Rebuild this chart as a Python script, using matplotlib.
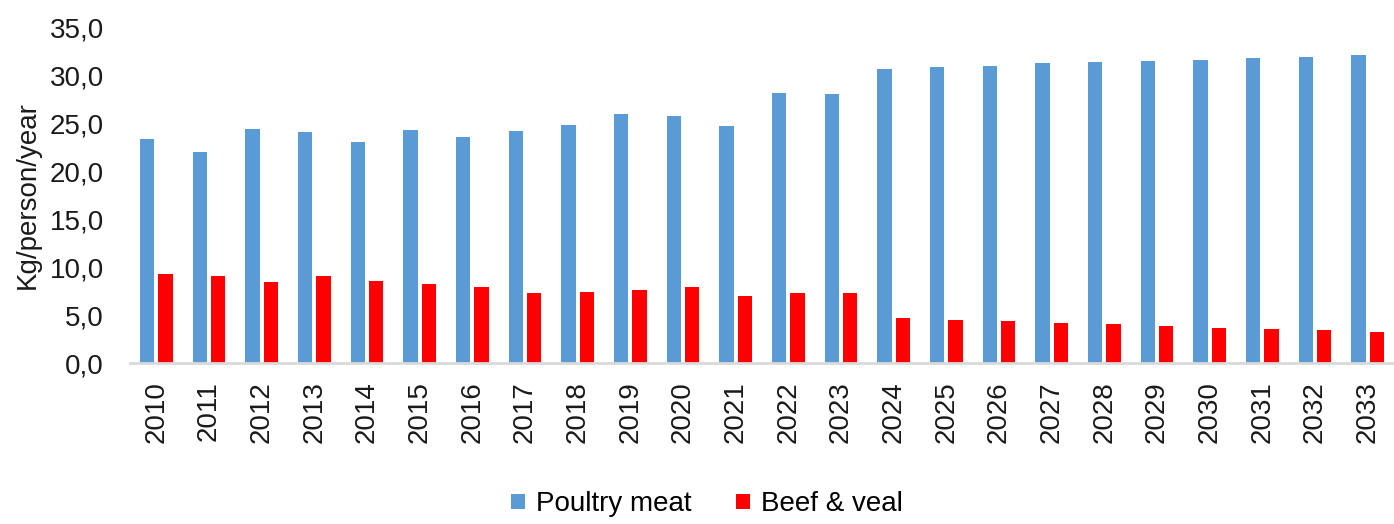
import numpy as np
import matplotlib.pyplot as plt
from matplotlib.ticker import FuncFormatter

plt.rcParams['font.family'] = ['Liberation Sans', 'DejaVu Sans']

# Data
years = [str(y) for y in range(2010, 2034)]
poultry = [23.4, 22.0, 24.4, 24.1, 23.1, 24.3, 23.6, 24.2, 24.9, 26.05,
           25.8, 24.8, 28.2, 28.1, 30.75, 30.95, 31.07, 31.3, 31.45, 31.6,
           31.7, 31.9, 32.0, 32.15]
beef = [9.3, 9.1, 8.5, 9.05, 8.57, 8.3, 8.0, 7.35, 7.4, 7.6,
        7.9, 7.0, 7.3, 7.3, 4.7, 4.55, 4.4, 4.2, 4.1, 3.9,
        3.7, 3.6, 3.45, 3.3]

BLUE = '#5b9bd5'
RED = '#ff0000'
FS = 20

fig = plt.figure(figsize=(13.94, 5.24), dpi=100)
ax = fig.add_axes([0.0933, 0.307, 0.9067, 0.6396])

x = np.arange(len(years))
w = 0.27
ax.bar(x - 0.175, poultry, width=w, color=BLUE, label='Poultry meat')
ax.bar(x + 0.175, beef, width=w, color=RED, label='Beef & veal')

ax.set_xlim(-0.5, len(years) - 0.5)
ax.set_ylim(0, 35)
ax.set_yticks(np.arange(0, 36, 5))
ax.yaxis.set_major_formatter(FuncFormatter(lambda v, p: f'{v:.1f}'.replace('.', ',')))
ax.set_xticks(x)
ax.set_xticklabels(years, rotation=90)

for s in ['top', 'right', 'left']:
    ax.spines[s].set_visible(False)
ax.spines['bottom'].set_color('#d9d9d9')
ax.spines['bottom'].set_linewidth(2)
ax.tick_params(axis='y', length=0, pad=19, labelsize=FS, labelcolor='#1a1a1a')
ax.tick_params(axis='x', length=0, pad=13, labelsize=FS, labelcolor='#1a1a1a')

ax.set_ylabel('Kg/person/year', fontsize=FS, color='#1a1a1a', labelpad=6)

fig.legend(loc='lower center', bbox_to_anchor=(0.507, -0.035), ncol=2, frameon=False,
           fontsize=FS, handlelength=0.5, handleheight=0.5, handletextpad=0.4,
           columnspacing=1.6)

fig.savefig('out.png', dpi=100)
